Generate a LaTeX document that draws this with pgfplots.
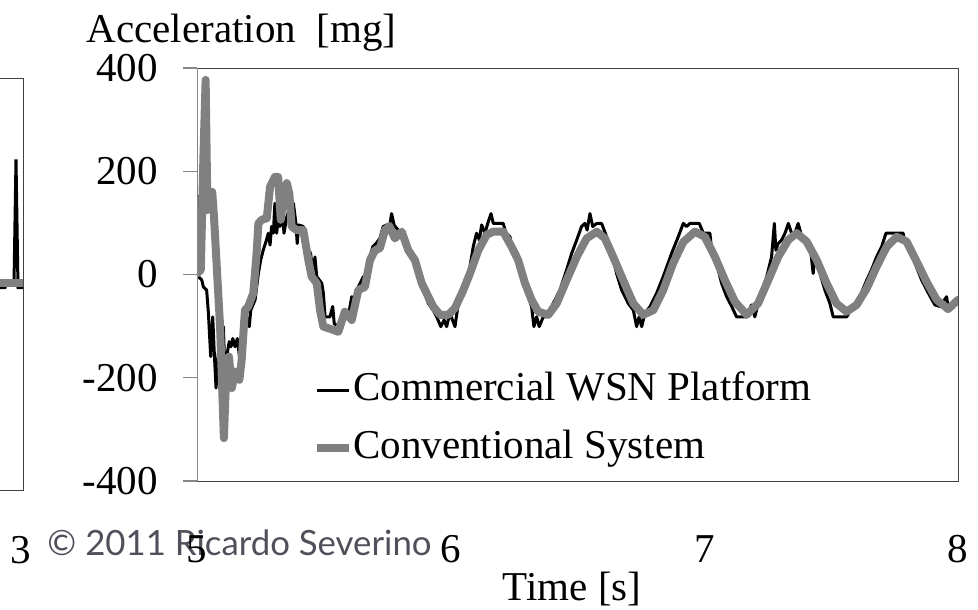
\documentclass[border=0pt]{standalone}
\usepackage{pgfplots}
\pgfplotsset{compat=1.18}
\usepackage{fontspec}
\setmainfont{Liberation Serif}
\newfontfamily\gillfont{Lato}
\definecolor{seriesgray}{RGB}{128,128,128}
\definecolor{framegray}{RGB}{64,64,64}
\definecolor{axisgray}{RGB}{134,134,134}
\definecolor{copygray}{RGB}{80,80,92}
\newcommand\chartfont{\fontsize{20.5bp}{24bp}\selectfont}
\begin{document}
\begin{tikzpicture}
\useasboundingbox (0,0) rectangle (489bp,305bp);
\clip (0,0) rectangle (489bp,305bp);

\node[anchor=base west, text=copygray, font=\gillfont\fontsize{17.4bp}{20bp}\selectfont, inner sep=0pt] at (23.5bp,27.5bp) {© 2011 Ricardo Severino};

% left (cropped) chart
\begin{axis}[at={(11.5bp,60bp)}, anchor=south east, width=150bp, height=206bp, scale only axis,
  xmin=1.51, xmax=3.01, ymin=-400, ymax=400, xtick={3}, ytick=\empty, major tick length=0pt,
  axis line style={framegray}, /pgf/number format/assume math mode=true,
  xticklabel style={font=\chartfont, anchor=base, yshift=-37bp}]
\addplot[black, line width=1.5bp] coordinates {(1.51,-7) (2.92,-7) (2.925,0) (2.965,0) (2.975,242) (2.985,-7) (3.02,-7) (3.03,0)};
\addplot[seriesgray, line width=4bp] coordinates {(1.51,1) (3.05,1)};
\end{axis}

% main chart: frame, data, legend
\begin{axis}[at={(98.5bp,64.5bp)}, anchor=south west, width=380.5bp, height=206.5bp, scale only axis,
  xmin=5, xmax=8, ymin=-400, ymax=400, xtick={5,6,7,8}, ytick=\empty,
  xtick style={draw=none}, axis line style={framegray},
  /pgf/number format/assume math mode=true,
  xticklabel style={font=\chartfont, anchor=base, yshift=-40.5bp},
  xlabel={Time [s]},
  every axis x label/.style={at={(axis description cs:0.4928,0)}, anchor=base, yshift=-59.5bp, font=\chartfont},
  legend cell align=left,
  legend image code/.code={\draw[#1] (0bp,0bp) -- (16bp,0bp);},
  legend style={draw=none, fill=none, at={(axis description cs:0.1524,0.1501)}, anchor=west,
    font=\chartfont, inner sep=0pt, row sep=9bp,
    nodes={inner sep=0pt, text height=15bp, text depth=5bp}},
  line join=round, line cap=round]
\addplot[black, line width=1.5bp] coordinates {
(5.000,154) (5.004,-3) (5.019,-11) (5.025,-24) (5.038,-30) (5.045,-75) (5.054,-159) (5.062,-82)
(5.067,-140) (5.075,-220) (5.084,-153) (5.093,-179) (5.104,-101) (5.112,-217) (5.119,-153)
(5.127,-130) (5.134,-140) (5.141,-124) (5.150,-140) (5.159,-124) (5.169,-166) (5.182,-114)
(5.196,-82) (5.206,-101) (5.212,-69) (5.229,-49) (5.242,2) (5.251,28) (5.261,47) (5.272,64)
(5.281,80) (5.288,57) (5.294,93) (5.301,80) (5.307,138) (5.314,80) (5.320,106) (5.327,93)
(5.334,138) (5.343,80) (5.354,112) (5.367,131) (5.380,138) (5.390,99) (5.395,60) (5.401,96)
(5.419,93) (5.432,54) (5.448,41) (5.456,2) (5.465,34) (5.472,-4) (5.492,-17) (5.498,-36)
(5.505,-82) (5.524,-82) (5.535,-62) (5.541,-95) (5.557,-101) (5.564,-108) (5.577,-75)
(5.596,-82) (5.610,-43) (5.623,-49) (5.636,-24) (5.656,-4) (5.666,-11) (5.675,22) (5.693,54)
(5.706,60) (5.721,70) (5.734,93) (5.748,96) (5.758,89) (5.767,118) (5.777,96) (5.793,86)
(5.807,83) (5.829,54) (5.853,34) (5.872,9) (5.892,-30) (5.912,-56) (5.931,-69) (5.945,-82)
(5.961,-101) (5.974,-88) (5.984,-101) (5.997,-75) (6.017,-101) (6.030,-56) (6.056,-17)
(6.076,15) (6.089,54) (6.102,80) (6.113,67) (6.122,96) (6.135,80) (6.148,102) (6.159,118)
(6.168,99) (6.207,99) (6.218,80) (6.234,73) (6.240,47) (6.260,28) (6.280,-4) (6.300,-36)
(6.319,-62) (6.328,-101) (6.339,-82) (6.349,-101) (6.365,-82) (6.378,-82) (6.398,-62)
(6.431,-30) (6.457,9) (6.477,41) (6.497,67) (6.516,93) (6.529,99) (6.538,86) (6.549,118)
(6.560,93) (6.576,99) (6.595,99) (6.615,73) (6.635,41) (6.654,2) (6.674,-30) (6.700,-56)
(6.720,-69) (6.733,-101) (6.743,-82) (6.753,-101) (6.766,-75) (6.786,-62) (6.812,-36)
(6.838,-4) (6.871,41) (6.897,73) (6.917,99) (6.930,93) (6.943,99) (6.980,99) (6.996,80)
(7.022,80) (7.029,47) (7.048,22) (7.068,-17) (7.088,-43) (7.108,-62) (7.127,-82) (7.167,-82)
(7.186,-59) (7.199,-82) (7.219,-43) (7.246,-4) (7.265,34) (7.276,99) (7.282,47) (7.291,60)
(7.305,67) (7.318,80) (7.331,99) (7.344,80) (7.357,80) (7.370,99) (7.384,73) (7.403,67)
(7.416,60) (7.429,2) (7.436,34) (7.456,2) (7.475,-30) (7.495,-56) (7.508,-82) (7.561,-82)
(7.587,-62) (7.613,-43) (7.640,-11) (7.659,9) (7.679,34) (7.699,54) (7.716,80) (7.784,80)
(7.791,60) (7.810,54) (7.830,22) (7.857,-11) (7.883,-36) (7.909,-59) (7.929,-62) (7.955,-43)
(7.961,-62) (7.988,-56) (8.000,-49)};
\addlegendentry{Commercial WSN Platform}
\addplot[seriesgray, line width=4bp] coordinates {
(5.000,2) (5.015,9) (5.025,222) (5.034,377) (5.041,125) (5.060,160) (5.067,112) (5.091,-101)
(5.106,-317) (5.117,-166) (5.126,-159) (5.137,-220) (5.150,-188) (5.167,-204) (5.176,-166)
(5.189,-69) (5.202,-62) (5.222,-36) (5.235,41) (5.242,99) (5.255,106) (5.275,109) (5.288,170)
(5.307,189) (5.320,189) (5.330,106) (5.340,144) (5.354,177) (5.364,157) (5.373,93) (5.393,86)
(5.419,86) (5.439,28) (5.452,-4) (5.472,-17) (5.485,-69) (5.498,-101) (5.524,-105) (5.557,-111)
(5.583,-72) (5.610,-88) (5.636,-30) (5.662,-24) (5.682,28) (5.702,47) (5.721,51) (5.741,86)
(5.758,94) (5.780,70) (5.807,83) (5.833,47) (5.859,28) (5.886,-17) (5.912,-43) (5.931,-62)
(5.958,-78) (5.991,-78) (6.017,-65) (6.050,-30) (6.076,2) (6.109,47) (6.142,77) (6.168,83)
(6.207,83) (6.240,54) (6.266,28) (6.293,-17) (6.319,-49) (6.345,-72) (6.385,-78) (6.418,-56)
(6.457,-11) (6.497,34) (6.536,70) (6.576,83) (6.608,70) (6.641,34) (6.680,-11) (6.720,-56)
(6.759,-78) (6.799,-69) (6.838,-30) (6.877,22) (6.917,63) (6.963,83) (7.002,73) (7.042,34)
(7.081,-11) (7.121,-53) (7.167,-78) (7.212,-56) (7.252,-11) (7.291,34) (7.331,67) (7.364,80)
(7.403,64) (7.443,28) (7.482,-17) (7.521,-56) (7.561,-72) (7.600,-59) (7.640,-27) (7.679,15)
(7.719,54) (7.758,73) (7.797,64) (7.837,25) (7.876,-14) (7.916,-49) (7.961,-67) (8.000,-49)};
\addlegendentry{Conventional System}
\end{axis}

% main chart: left axis line, ticks and labels
\begin{axis}[at={(98.5bp,64.5bp)}, anchor=south west, width=380.5bp, height=206.5bp, scale only axis,
  xmin=5, xmax=8, ymin=-400, ymax=400, axis x line=none, axis y line=left,
  y axis line style={axisgray, -}, ytick={-400,-200,0,200,400},
  ytick style={axisgray, line width=0.6bp}, tick align=outside, major tick length=7bp,
  /pgf/number format/assume math mode=true,
  yticklabel style={font=\chartfont, anchor=east, inner xsep=0pt, xshift=-12.5bp},
  ylabel={Acceleration\ \ [mg]},
  every axis y label/.style={at={(axis description cs:0.0585,1)}, anchor=base, yshift=13bp, font=\chartfont}]
\end{axis}
\end{tikzpicture}
\end{document}
